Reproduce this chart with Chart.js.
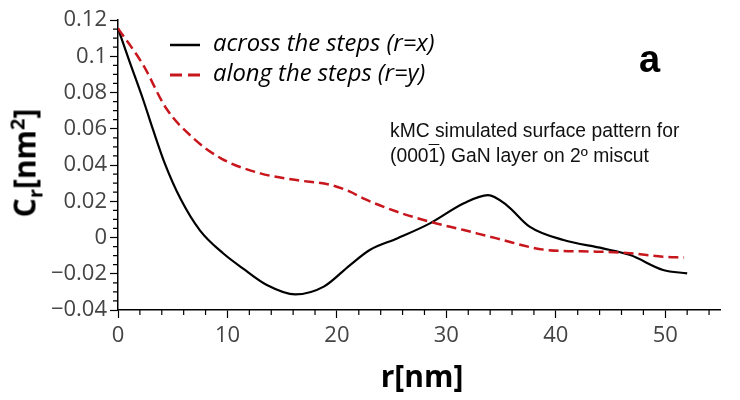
<!DOCTYPE html>
<html>
<head>
<meta charset="utf-8">
<script src="https://cdn.jsdelivr.net/npm/chart.js@4/dist/chart.umd.min.js"></script>
<style>
  body { margin: 0; background: #fff; }
  #wrap { position: relative; width: 740px; height: 400px; }
  .lbl { position: absolute; white-space: nowrap; color: #000; }
  #ytitle { left: 26px; top: 163px; transform: translate(-50%, -50%) rotate(-90deg);
            font: bold 30px "Open Sans", sans-serif; }
  #xtitle { left: 422px; top: 375px; transform: translate(-50%, -50%);
            font: bold 30px "Open Sans", sans-serif; }
  .leg { position: absolute; left: 170px; font: italic 23.8px "Open Sans", sans-serif; white-space: nowrap;
         line-height: 30px; }
  .leg svg { vertical-align: middle; margin-right: 13px; }
  #panel { left: 639px; top: 38px; font: bold 38px "Liberation Sans", Arial, sans-serif; }
  #note { left: 390px; top: 118px; font: 19.3px "Liberation Sans", Arial, sans-serif; line-height: 25px; color: #111; }
</style>
</head>
<body>
<div id="wrap">
  <canvas id="c" width="740" height="400"></canvas>
  <div class="lbl" id="ytitle">C<sub style="font-size:20px">r</sub>[nm<sup style="font-size:20px">2</sup>]</div>
  <div class="lbl" id="xtitle">r[nm]</div>
  <div class="leg" style="top:27px"><svg width="30" height="4"><line x1="0" y1="2" x2="30" y2="2" stroke="#000" stroke-width="2.5"/></svg>across the steps (r=x)</div>
  <div class="leg" style="top:57px"><svg width="30" height="4"><line x1="0" y1="2" x2="30" y2="2" stroke="#c8161d" stroke-width="3" stroke-dasharray="12 6"/></svg>along the steps (r=y)</div>
  <div class="lbl" id="panel">a</div>
  <div class="lbl" id="note">kMC simulated surface pattern for<br>(000<span style="text-decoration:overline">1</span>) GaN layer on 2º miscut</div>
</div>
<script>
// across the steps (r = x)
const rAcross = [0, 1, 2.3, 3.2, 4.3, 5.7, 7.5, 9.6, 11.4, 13.6, 16.2, 18.8, 21.2, 23, 25.5, 28.5, 31.6, 33.8, 35.5, 37.6, 40.7, 44.3, 46.8, 49.8, 52];
const cAcross = [0.1154, 0.098, 0.076, 0.0595, 0.0405, 0.0215, 0.0038, -0.0087, -0.017, -0.0262, -0.0314, -0.0271, -0.0152, -0.0069, -0.0005, 0.0078, 0.0189, 0.0234, 0.0179, 0.006, -0.0014, -0.006, -0.0097, -0.0179, -0.0198];

// along the steps (r = y)
const rAlong = [0, 2.3, 4.4, 6.9, 9.4, 13, 16.3, 19.4, 21.2, 22.4, 25.5, 28.5, 31.6, 34.6, 39.2, 43.7, 46.8, 49.8, 51.7];
const cAlong = [0.1154, 0.0952, 0.0713, 0.0547, 0.0437, 0.0354, 0.0317, 0.029, 0.0253, 0.0216, 0.0142, 0.0087, 0.0041, -0.0005, -0.0069, -0.0078, -0.0087, -0.0106, -0.0111];

const xMin = 0, xMax = 55, xStep = 10, xMinor = 2;
const yMin = -0.04, yMax = 0.12, yStep = 0.02, yMinor = 0.005;

const pts = (xs, ys) => xs.map((x, i) => ({ x: x, y: ys[i] }));

const minorTicks = {
  id: 'minorTicks',
  afterDraw(chart) {
    const ctx = chart.ctx, xs = chart.scales.x, ys = chart.scales.y;
    ctx.save();
    ctx.strokeStyle = '#000';
    ctx.lineWidth = 1.2;
    ctx.beginPath();
    for (let v = xMin; v <= xMax + 1e-9; v += xMinor) {
      if (Math.abs(v % xStep) < 1e-9) continue;
      const p = xs.getPixelForValue(v);
      ctx.moveTo(p, xs.top);
      ctx.lineTo(p, xs.top + 5);
    }
    const n = Math.round((yMax - yMin) / yMinor);
    for (let i = 0; i <= n; i++) {
      if (i % 4 === 0) continue;
      const p = ys.getPixelForValue(yMin + i * yMinor);
      ctx.moveTo(ys.right, p);
      ctx.lineTo(ys.right - 5, p);
    }
    ctx.stroke();
    ctx.restore();
  }
};

new Chart(document.getElementById('c'), {
  type: 'line',
  data: {
    datasets: [
      { label: 'along the steps (r=y)', data: pts(rAlong, cAlong), borderColor: '#c8161d',
        borderWidth: 2.5, borderDash: [10, 5], pointRadius: 0, cubicInterpolationMode: 'monotone', fill: false },
      { label: 'across the steps (r=x)', data: pts(rAcross, cAcross), borderColor: '#000',
        borderWidth: 2.2, pointRadius: 0, cubicInterpolationMode: 'monotone', fill: false }
    ]
  },
  options: {
    responsive: false,
    animation: false,
    layout: { padding: { top: 20, right: 20, left: 0, bottom: 0 } },
    plugins: { legend: { display: false }, tooltip: { enabled: false } },
    scales: {
      x: {
        type: 'linear', min: xMin, max: xMax,
        afterFit(s) { s.height = 90; },
        border: { color: '#000', width: 1.5 },
        grid: { drawOnChartArea: false, tickLength: 8, color: '#000', tickWidth: 1.2 },
        ticks: { stepSize: xStep, includeBounds: false, padding: 5, color: '#444',
                 font: { family: 'Open Sans', size: 22 } }
      },
      y: {
        min: yMin, max: yMax,
        afterFit(s) { s.width = 118; },
        border: { color: '#000', width: 1.5 },
        grid: { drawOnChartArea: false, tickLength: 8, color: '#000', tickWidth: 1.2 },
        ticks: { stepSize: yStep, padding: 3, color: '#444',
                 font: { family: 'Open Sans', size: 22 },
                 callback: v => { const r = Math.round(v * 100) / 100; return r === 0 ? '0' : String(r).replace('-', '\u2212'); } }
      }
    }
  },
  plugins: [minorTicks]
});
</script>
</body>
</html>
